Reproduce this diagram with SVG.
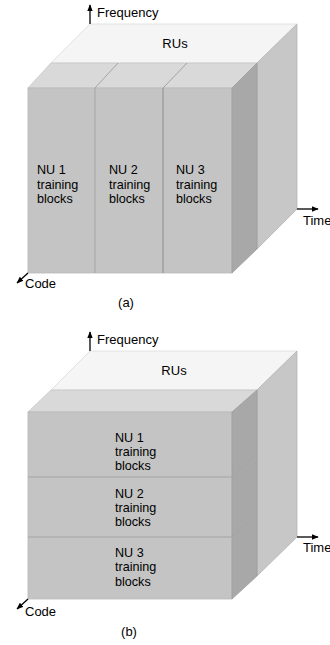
<svg xmlns="http://www.w3.org/2000/svg" width="330" height="645" viewBox="0 0 330 645">
<defs>
<marker id="ah" viewBox="0 0 10 10" refX="9" refY="5" markerWidth="7" markerHeight="7" markerUnits="userSpaceOnUse" orient="auto">
<path d="M0,1 L10,5 L0,9 Z" fill="#000"/>
</marker>
<style>
text{font-family:"Liberation Sans",Arial,Helvetica,sans-serif;fill:#000}
.lbl{font-size:13px}
.blk{font-size:12.6px}
.ax{stroke:#000;stroke-width:1.3;fill:none;marker-end:url(#ah)}
.btop{fill:#f5f5f5;stroke:#dcdcdc;stroke-width:0.8}
.bright{fill:#c7c7c7;stroke:#b4b4b4;stroke-width:0.8}
.itop{fill:#d9d9d9;stroke:#c6c6c6;stroke-width:0.8}
.ifront{fill:#c4c4c4;stroke:#b8b8b8;stroke-width:0.8}
.iright{fill:#a8a8a8;stroke:#a0a0a0;stroke-width:0.8}
.div{stroke:#a4a4a4;stroke-width:1;fill:none}
.div2{stroke:#8c8c8c;stroke-width:1;fill:none}
</style>
</defs>

<!-- Figure (a) -->
<g id="fig-a-ru-box">
<polygon class="btop" points="90,24 297,24 257,63 51,63"/>
<polygon class="bright" points="257,63 297,24 297,209 257,249"/>
<text class="lbl" x="175" y="48" text-anchor="middle">RUs</text>
</g>
<g id="fig-a-blocks">
<polygon class="itop" points="51,63 257,63 232,88 28,88"/>
<rect class="ifront" x="28" y="88" width="204" height="185"/>
<polygon class="iright" points="232,88 257,63 257,249 232,273"/>
</g>
<g id="fig-a-nu1">
<text class="blk" x="37" y="174">NU 1</text>
<text class="blk" x="37" y="188.5">training</text>
<text class="blk" x="37" y="203">blocks</text>
</g>
<g id="fig-a-nu2">
<line class="div" x1="95" y1="88" x2="95" y2="273"/>
<line class="div" x1="95" y1="88" x2="118" y2="63"/>
<text class="blk" x="109" y="174">NU 2</text>
<text class="blk" x="109" y="188.5">training</text>
<text class="blk" x="109" y="203">blocks</text>
</g>
<g id="fig-a-nu3">
<line class="div2" x1="163" y1="88" x2="163" y2="273"/>
<line class="div" x1="163" y1="88" x2="187" y2="63"/>
<text class="blk" x="176" y="174">NU 3</text>
<text class="blk" x="176" y="188.5">training</text>
<text class="blk" x="176" y="203">blocks</text>
</g>

<!-- Figure (b) -->
<g id="fig-b-ru-box">
<polygon class="btop" points="90,351 297,351 257,390 51,390"/>
<polygon class="bright" points="257,390 297,351 297,537 257,576"/>
<text class="lbl" x="174" y="375" text-anchor="middle">RUs</text>
</g>
<g id="fig-b-blocks">
<polygon class="itop" points="51,390 257,390 232,412 28,412"/>
<rect class="ifront" x="28" y="412" width="204" height="187"/>
<polygon class="iright" points="232,412 257,390 257,576 232,599"/>
</g>
<g id="fig-b-nu1">
<text class="blk" x="115" y="441.5">NU 1</text>
<text class="blk" x="115" y="456">training</text>
<text class="blk" x="115" y="470">blocks</text>
</g>
<g id="fig-b-nu2">
<line class="div" x1="28" y1="477" x2="232" y2="477"/>
<line class="div" x1="232" y1="477" x2="257" y2="453"/>
<text class="blk" x="115" y="497.5">NU 2</text>
<text class="blk" x="115" y="512">training</text>
<text class="blk" x="115" y="526">blocks</text>
</g>
<g id="fig-b-nu3">
<line class="div" x1="28" y1="537" x2="232" y2="537"/>
<line class="div" x1="232" y1="537" x2="257" y2="514"/>
<text class="blk" x="115" y="556.5">NU 3</text>
<text class="blk" x="115" y="571">training</text>
<text class="blk" x="115" y="585.5">blocks</text>
</g>

<!-- Axes / connectors -->
<g id="connectors">
<line class="ax" x1="90" y1="24" x2="90" y2="5"/>
<line class="ax" x1="297" y1="209" x2="318" y2="209"/>
<line class="ax" x1="28" y1="273" x2="17" y2="283"/>
<line class="ax" x1="90" y1="351" x2="90" y2="332"/>
<line class="ax" x1="297" y1="537" x2="318" y2="537"/>
<line class="ax" x1="28" y1="599" x2="17" y2="609"/>
</g>
<g id="axis-labels">
<text class="lbl" x="97" y="17">Frequency</text>
<text class="lbl" x="303" y="225">Time</text>
<text class="lbl" x="25" y="288">Code</text>
<text class="lbl" x="126" y="307" text-anchor="middle">(a)</text>
<text class="lbl" x="97" y="344">Frequency</text>
<text class="lbl" x="303" y="552">Time</text>
<text class="lbl" x="25" y="615.5">Code</text>
<text class="lbl" x="129" y="636" text-anchor="middle">(b)</text>
</g>
</svg>
